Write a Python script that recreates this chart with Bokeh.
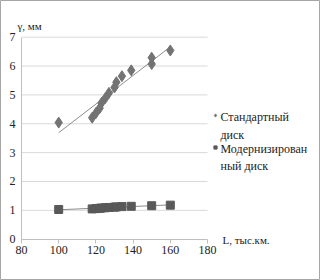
import numpy as np
from bokeh.plotting import figure
from bokeh.models import Legend, LegendItem, Label, Range1d, FixedTicker
from bokeh.embed import file_html
from bokeh.resources import INLINE

# data
std_L = [100, 118, 120, 122, 123, 125, 127, 130, 131, 134, 139, 150, 150, 160]
std_g = [4.04, 4.21, 4.37, 4.54, 4.72, 4.88, 5.07, 5.26, 5.44, 5.65, 5.85, 6.07, 6.29, 6.54]
mod_L = [100, 118, 120, 122, 123, 125, 127, 130, 131, 134, 139, 150, 160]
mod_g = [1.03, 1.05, 1.06, 1.07, 1.08, 1.09, 1.10, 1.11, 1.12, 1.13, 1.14, 1.16, 1.18]
x_ticks = [80, 100, 120, 140, 160, 180]
y_ticks = [0, 1, 2, 3, 4, 5, 6, 7]
std_name = "Стандартный"
std_name2 = "диск"
mod_name = "Модернизирован"
mod_name2 = "ный диск"
y_title = "γ, мм"
x_title = "L, тыс.км."

FONT = "Liberation Serif"
W, H = 320, 280
X0PX, XSCALE = 21, 1.86      # px of x=80, px per unit
Y0PX, YSCALE = 238.7, 28.86  # px of y=0, px per unit

def px_to_x(px):
    return x_ticks[0] + (px - X0PX) / XSCALE

def px_to_y(py):
    return (Y0PX - py) / YSCALE

p = figure(width=W, height=H, output_backend="svg", toolbar_location=None,
           x_range=Range1d(px_to_x(0), px_to_x(W)), y_range=Range1d(px_to_y(H), px_to_y(0)),
           min_border=0)
p.outline_line_color = "#a6a6a6"
p.background_fill_color = "white"
p.border_fill_color = "white"
p.grid.visible = False

# grid lines limited to the data area
xmin, xmax = x_ticks[0], x_ticks[-1]
p.segment(x0=[xmin] * (len(y_ticks) - 1), x1=[xmax] * (len(y_ticks) - 1),
          y0=y_ticks[1:], y1=y_ticks[1:], line_color="#d9d9d9", line_width=1)

for ax in (p.xaxis[0], p.yaxis[0]):
    ax.axis_line_color = "#bfbfbf"
    ax.major_tick_line_color = "#bfbfbf"
    ax.minor_tick_line_color = None
    ax.major_tick_in = 0
    ax.major_label_text_font = FONT
    ax.major_label_text_font_size = "12px"
    ax.major_label_text_color = "#222222"
p.xaxis[0].ticker = FixedTicker(ticks=x_ticks)
p.yaxis[0].ticker = FixedTicker(ticks=y_ticks)
p.xaxis[0].fixed_location = y_ticks[0]
p.yaxis[0].fixed_location = x_ticks[0]
p.xaxis[0].bounds = (x_ticks[0], x_ticks[-1])
p.yaxis[0].bounds = (y_ticks[0], y_ticks[-1])
p.xaxis[0].major_tick_out = 4
p.yaxis[0].major_tick_out = 0
p.yaxis[0].major_label_standoff = 6
p.xaxis[0].major_label_standoff = 3

# trend lines from linear fit
def trend(xs, ys):
    k, b = np.polyfit(xs, ys, 1)
    x0, x1 = min(xs), max(xs)
    return [x0, x1], [k * x0 + b, k * x1 + b]

tx, ty = trend(std_L, std_g)
p.line(tx, ty, line_color="#8c8c8c", line_width=1)
mx, my = trend(mod_L, mod_g)
p.line(mx, my, line_color="#8c8c8c", line_width=1)

r_std = p.scatter(std_L, std_g, marker="diamond", size=11, fill_color="#737373", line_color="#737373")
r_mod = p.scatter(mod_L, mod_g, marker="square", size=8, fill_color="#595959", line_color="#595959")

# legend glyphs; label text drawn as wrapped lines like the reference
legend = Legend(items=[LegendItem(label=" ", renderers=[r_std]),
                       LegendItem(label=" ", renderers=[r_mod])],
                location=(211, 126), padding=0, margin=0, spacing=18,
                glyph_width=8, glyph_height=8, label_height=14, label_standoff=0,
                border_line_color=None, background_fill_alpha=0,
                label_text_font=FONT, label_text_font_size="12px", label_text_color="#222222")
p.add_layout(legend, "center")

for txt, x, y in [(std_name, 220, 116), (std_name2, 220, 134),
                  (mod_name, 220, 148), (mod_name2, 220, 165)]:
    p.add_layout(Label(x=px_to_x(x), y=px_to_y(y), text=txt, text_font=FONT,
                       text_font_size="12px", text_baseline="middle", text_color="#222222"))

p.add_layout(Label(x=px_to_x(17), y=px_to_y(25), text=y_title, text_font=FONT,
                   text_font_size="11px", text_baseline="middle", text_color="#222222"))
p.add_layout(Label(x=px_to_x(222), y=px_to_y(239), text=x_title, text_font=FONT,
                   text_font_size="11px", text_baseline="middle", text_color="#222222"))

open("out.html", "w").write(file_html(p, INLINE))
